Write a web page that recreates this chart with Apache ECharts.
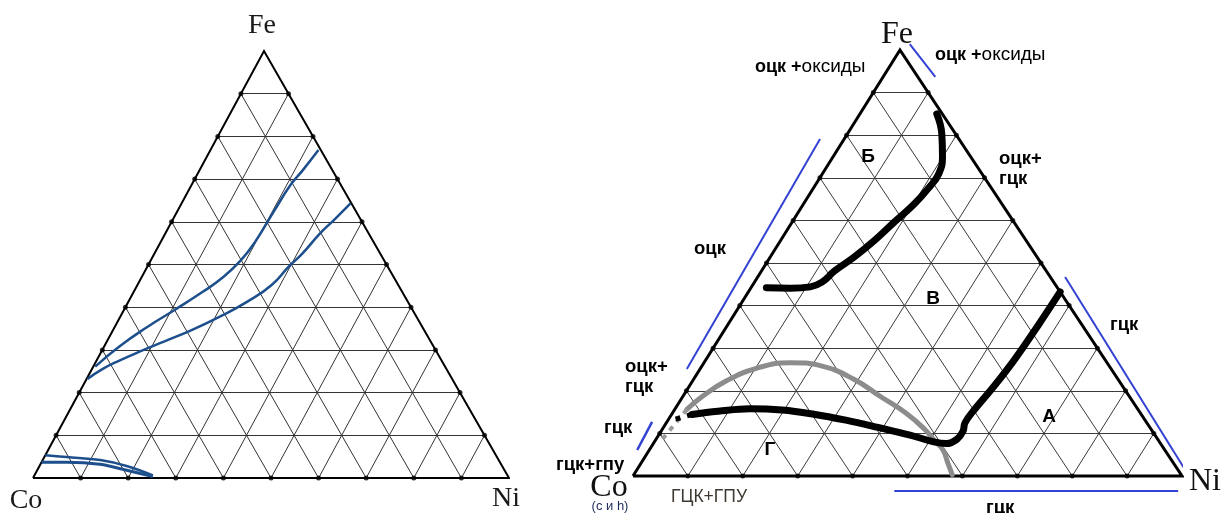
<!DOCTYPE html>
<html>
<head>
<meta charset="utf-8">
<script src="https://cdn.jsdelivr.net/npm/echarts@6/dist/echarts.min.js"></script>
<style>
html,body{margin:0;padding:0;background:#fff}
#chart{width:1223px;height:513px}
</style>
</head>
<body>
<div id="chart"></div>
<script>
// Compositions are written as [Ni %, Fe %]; Co makes up the rest.
const gridTicks = [10, 20, 30, 40, 50, 60, 70, 80, 90];

// Left diagram: phase boundaries (Co–Fe–Ni)
const leftUpper = [[22.7,76.8],[21.7,72.1],[20.8,68.6],[20.3,62.5],[19.8,55.0],[18.9,50.9],[17.1,47.0],[14.5,43.6],[10.7,39.4],[6.8,35.3],[3.2,30.8],[0.4,26.1]];
const leftLower = [[35.5,64.3],[33.9,60.4],[32.5,57.3],[31.1,52.6],[29.7,49.5],[28.2,45.2],[25.0,41.3],[20.9,37.8],[16.6,34.7],[12.1,32.0],[8.7,30.0],[4.8,27.5],[2.2,25.5],[0.2,23.2]];
const leftCornerA = [[0,5.3],[4.7,4.9],[12.1,4.2],[18.3,2.8],[24.9,0.6]];
const leftCornerB = [[0,3.7],[5.3,3.7],[12.5,3.2],[18.8,1.8],[25.0,0.35]];

// Right diagram: region boundaries
const rightBV = [[14.0,85.0],[17.2,80.3],[20.0,74.8],[21.2,70.9],[21.0,67.8],[20.2,63.9],[18.6,59.6],[17.1,55.3],[15.3,51.4],[13.3,48.1],[12.3,45.5],[10.7,44.4],[7.2,44.1],[2.8,44.2]];
const rightAG = [[56.8,43.2],[56.6,35.4],[56.2,27.2],[55.5,21.0],[54.6,15.5],[54.4,12.5],[55.0,10.5],[54.8,8.6],[53.4,7.6],[50.9,8.0],[45.8,9.6],[39.1,11.4],[32.4,13.1],[25.9,14.5],[19.6,15.5],[13.6,15.8],[8.1,15.2],[3.7,14.45]];
const rightAGTail = [[3.7,14.45],[0.7,13.1]];
const rightGray = [[2.2,15.6],[3.5,18.6],[6.1,22.3],[10.4,25.4],[15.7,26.6],[21.9,25.8],[29.2,22.7],[36.1,18.6],[42.5,14.8],[47.5,11.2],[51.0,8.2],[53.5,6.1],[55.9,3.0],[58.0,0.3]];
const rightGrayTail = [[2.2,15.6],[1.4,10.3],[1.0,7.9]];

// Phase-field brackets beside the right diagram
const bracketFe = [[1.1,101.4],[9.5,93.7]];
const bracketCoFe = [[-4.4,79.1],[-2.4,25.1]];
const bracketCo = [[-2.7,12.7],[-2.2,6.1]];
const bracketFeNi = [[56.0,46.7],[100.6,0.7]];
const bracketCoNi = [[49.3,-3.5],[101.0,-3.5]];

const LEFT = {grid: 0, apex: 48.53};
const RIGHT = {grid: 1, apex: 48.63};

// barycentric [Ni, Fe] -> axis units of the triangle's grid
function toXY(tri, p) { return [p[0] + p[1] * tri.apex / 100, p[1]]; }

function gridSegments(tri) {
  const segs = [];
  gridTicks.forEach(k => {
    segs.push({coords: [toXY(tri, [0, k]), toXY(tri, [100 - k, k])]});
    segs.push({coords: [toXY(tri, [k, 0]), toXY(tri, [k, 100 - k])]});
    segs.push({coords: [toXY(tri, [100 - k, 0]), toXY(tri, [0, 100 - k])]});
  });
  return segs;
}
function edgeDots(tri) {
  const pts = [];
  gridTicks.forEach(k => {
    pts.push(toXY(tri, [0, k]), toXY(tri, [100 - k, k]), toXY(tri, [k, 0]));
  });
  return pts;
}
function outline(tri) {
  return [[0,0],[100,0],[0,100],[0,0]].map(p => toXY(tri, p));
}
function curve(tri, pts, style, extra) {
  return Object.assign({
    type: 'line', xAxisIndex: tri.grid, yAxisIndex: tri.grid,
    data: pts.map(p => toXY(tri, p)), symbol: 'none', clip: false,
    silent: true, lineStyle: style, z: 5
  }, extra || {});
}
function frame(tri, edgeWidth, gridColor) {
  return [
    {type: 'lines', coordinateSystem: 'cartesian2d', xAxisIndex: tri.grid, yAxisIndex: tri.grid,
     data: gridSegments(tri), silent: true, lineStyle: {color: gridColor, width: 1, opacity: 1}, z: 2},
    {type: 'line', xAxisIndex: tri.grid, yAxisIndex: tri.grid, data: outline(tri), symbol: 'none',
     clip: false, silent: true, lineStyle: {color: '#000', width: edgeWidth, join: 'miter'}, z: 3},
    {type: 'scatter', xAxisIndex: tri.grid, yAxisIndex: tri.grid, data: edgeDots(tri), symbolSize: 5,
     itemStyle: {color: '#000'}, silent: true, z: 4}
  ];
}

const axis = {type: 'value', min: 0, max: 100, show: false};
const serif = '"Liberation Serif", "DejaVu Serif", serif';
const sans = '"Liberation Sans", Arial, sans-serif';

function label(text, x, y, font, fill, align) {
  return {type: 'text', silent: true, z: 10, style: {
    text: text, x: x, y: y, font: font, fill: fill || '#000',
    align: align || 'left', verticalAlign: 'middle',
    textAlign: align || 'left', textVerticalAlign: 'middle'
  }};
}
function mixed(boldPart, plainPart, x, y) {
  return {type: 'text', silent: true, z: 10, style: {
    text: '{b|' + boldPart + '}{r|' + plainPart + '}', x: x, y: y,
    align: 'left', verticalAlign: 'middle', textAlign: 'left', textVerticalAlign: 'middle',
    rich: {
      b: {font: 'bold 18px ' + sans, fill: '#000', color: '#000'},
      r: {font: '19px ' + sans, fill: '#000', color: '#000'}
    }
  }};
}

const chart = echarts.init(document.getElementById('chart'));
const blueL = '#1d4f8d';
const blueR = '#3342d2';
const tag = 'bold 18.5px ' + sans;

chart.setOption({
  animation: false,
  backgroundColor: '#fff',
  grid: [
    {left: 33, top: 51, width: 476, height: 427},
    {left: 633, top: 50, width: 549, height: 426}
  ],
  xAxis: [Object.assign({gridIndex: 0}, axis), Object.assign({gridIndex: 1}, axis)],
  yAxis: [Object.assign({gridIndex: 0}, axis), Object.assign({gridIndex: 1}, axis)],
  series: [].concat(
    frame(LEFT, 2, '#333'),
    [
      curve(LEFT, leftUpper, {color: blueL, width: 2.5}, {smooth: 0.5}),
      curve(LEFT, leftLower, {color: blueL, width: 2.5}, {smooth: 0.5}),
      curve(LEFT, leftCornerA, {color: blueL, width: 2.5}, {smooth: 0.4}),
      curve(LEFT, leftCornerB, {color: blueL, width: 3}, {smooth: 0.4})
    ],
    frame(RIGHT, 3, '#3a3a3a'),
    [
      curve(RIGHT, rightGray, {color: '#8c8c8c', width: 5, cap: 'round'}, {smooth: 0.45}),
      curve(RIGHT, rightGrayTail, {color: '#9a9a9a', width: 4, type: [5, 6]}),
      curve(RIGHT, rightBV, {color: '#000', width: 7, cap: 'round'}, {smooth: 0.45, z: 6}),
      curve(RIGHT, rightAG, {color: '#000', width: 7, cap: 'round'}, {smooth: 0.4, z: 6}),
      curve(RIGHT, rightAGTail, {color: '#000', width: 5, type: [5, 7]}, {z: 6}),
      curve(RIGHT, bracketFe, {color: blueR, width: 2}),
      curve(RIGHT, bracketCoFe, {color: blueR, width: 2}),
      curve(RIGHT, bracketCo, {color: blueR, width: 2.5}),
      curve(RIGHT, bracketFeNi, {color: blueR, width: 2}),
      curve(RIGHT, bracketCoNi, {color: blueR, width: 2})
    ]
  ),
  graphic: [
    // left diagram vertices
    label('Fe', 262, 26, '28px ' + serif, '#1a1a1a', 'center'),
    label('Co', 26, 501, '28px ' + serif, '#1a1a1a', 'center'),
    label('Ni', 506, 499, '28px ' + serif, '#1a1a1a', 'center'),
    // right diagram vertices
    label('Fe', 897, 35, '32px ' + serif, '#111', 'center'),
    label('Co', 609, 488, '32px ' + serif, '#111', 'center'),
    label('(с и h)', 610, 506, '13px ' + sans, '#1e2b5e', 'center'),
    label('Ni', 1205, 482, '32px ' + serif, '#111', 'center'),
    // phase fields
    mixed('оцк +', 'оксиды', 755, 67),
    mixed('оцк +', 'оксиды', 935, 55),
    label('оцк+', 999, 159, tag),
    label('гцк', 999, 179, tag),
    label('оцк', 694, 249, tag),
    label('гцк', 1110, 325, tag),
    label('оцк+', 625, 367, tag),
    label('гцк', 625, 387, tag),
    label('гцк', 604, 428, tag),
    label('гцк+гпу', 556, 465, tag),
    label('ГЦК+ГПУ', 671, 497, '17.5px ' + sans, '#3f3830'),
    label('гцк', 986, 508, tag),
    // regions
    label('Б', 868, 157, 'bold 19px ' + sans, '#000', 'center'),
    label('В', 933, 299, 'bold 19px ' + sans, '#000', 'center'),
    label('А', 1049, 417, 'bold 19px ' + sans, '#000', 'center'),
    label('Г', 770, 450, 'bold 19px ' + sans, '#000', 'center')
  ]
});
</script>
</body>
</html>
